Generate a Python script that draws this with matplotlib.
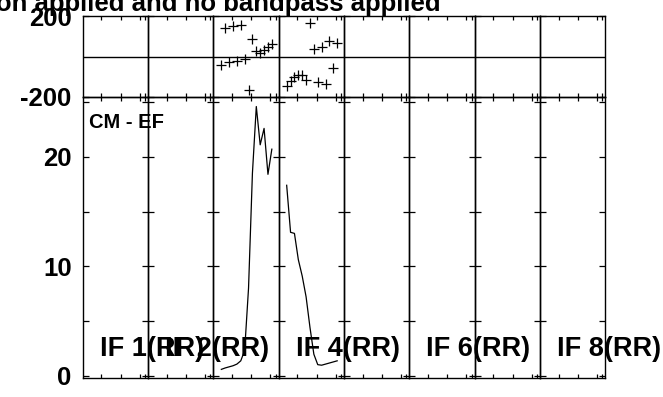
import matplotlib
matplotlib.use("Agg")
import matplotlib.pyplot as plt

plt.rcParams["font.family"] = ["Liberation Sans", "DejaVu Sans"]
plt.rcParams["font.weight"] = "bold"

# per-IF spectra, channels 3..16 (only IF 3 and IF 4 have data)
channels = list(range(3, 17))
amp_if3 = [0.57, 0.7, 0.8, 0.9, 1.05, 1.35, 2.3, 8.0, 18.5, 24.6, 21.1, 22.6, 18.4, 20.7]
amp_if4 = [17.4, 13.1, 13.0, 10.6, 9.1, 7.2, 4.4, 1.95, 1.0, 0.95, 1.05, 1.15, 1.25, 1.35]
phase_if3 = [-42, 142, -27, 151, -24, 156, -14, -165, 85, 29, 19, 32, 48, 62]
phase_if4 = [-146, -121, -103, -91, -91, -116, 164, 39, -124, 48, -137, 78, -58, 65]

amp_data = {3: amp_if3, 4: amp_if4}
phase_data = {3: phase_if3, 4: phase_if4}
if_labels = {1: "IF 1(RR)", 2: "IF 2(RR)", 4: "IF 4(RR)", 6: "IF 6(RR)", 8: "IF 8(RR)"}

n_if = 8
chan_ticks = [5.75, 10.72, 15.61, 16.98]
chan_lim = (0.94, 17.76)
amp_ticks = [0, 5, 10, 15, 20, 25]
amp_ticklabels = ["0", "", "10", "", "20", ""]
phase_ticks = [-200, 200]
title = "Calibration applied and no bandpass applied"

W, H = 663, 397
fig = plt.figure(figsize=(W / 100, H / 100), dpi=100)

left, right = 82.7, 605.3
pw = (right - left) / n_if
top0, top1, bot1 = 16, 97, 378

for i in range(n_if):
    ifn = i + 1
    x0 = (left + i * pw) / W
    ax_ph = fig.add_axes([x0, 1 - top1 / H, pw / W, (top1 - top0) / H])
    ax_amp = fig.add_axes([x0, 1 - bot1 / H, pw / W, (bot1 - top1) / H])

    for ax in (ax_ph, ax_amp):
        ax.set_facecolor("none")
        ax.set_xlim(*chan_lim)
        ax.set_xticks(chan_ticks)
        ax.tick_params(axis="x", direction="in", length=3, width=0.9,
                       top=True, bottom=True, labelbottom=False)
        ax.tick_params(axis="y", direction="in", length=4.5, width=0.9,
                       left=True, right=True, labelsize=18.5, pad=8,
                       labelleft=(i == 0))
        for sp in ax.spines.values():
            sp.set_linewidth(1.0)

    ax_ph.set_ylim(-200, 200)
    ax_ph.set_yticks(phase_ticks)
    ax_ph.set_yticklabels(["-200", "200"])
    ax_ph.axhline(0, color="black", lw=1.0)

    ax_amp.set_ylim(-0.22, 25.47)
    ax_amp.set_yticks(amp_ticks)
    ax_amp.set_yticklabels(amp_ticklabels)

    if ifn in amp_data:
        ax_amp.plot(channels, amp_data[ifn], color="black", lw=0.9)
        ax_ph.plot(channels, phase_data[ifn], "+", color="black", ms=7, mew=0.9)

    if ifn in if_labels:
        ax_amp.text(17 / pw, (bot1 - 356) / (bot1 - top1), if_labels[ifn],
                    transform=ax_amp.transAxes, fontsize=19.5, fontweight="bold",
                    va="baseline", ha="left")

    if i == 0:
        ax_amp.text(6 / pw, (bot1 - 128) / (bot1 - top1), "CM - EF",
                    transform=ax_amp.transAxes, fontsize=14.5, fontweight="bold",
                    va="baseline", ha="left")

fig.text(441 / W, 1 - 11 / H, title, fontsize=18.5, fontweight="bold",
         ha="right", va="baseline")

fig.savefig("out.png", dpi=100)
